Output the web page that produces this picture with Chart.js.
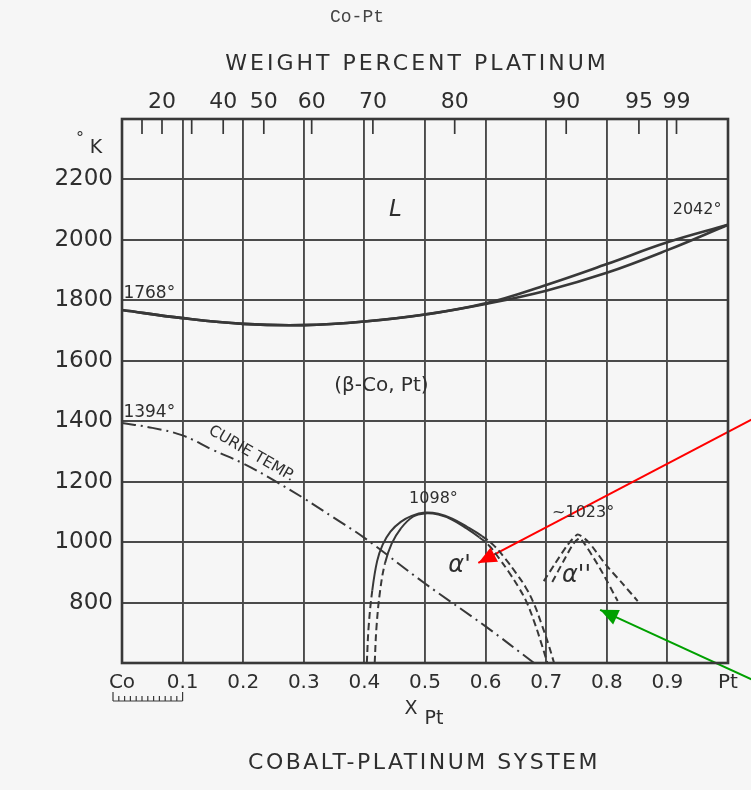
<!DOCTYPE html>
<html>
<head>
<meta charset="utf-8">
<script src="https://cdn.jsdelivr.net/npm/chart.js@4.4.1/dist/chart.umd.min.js"></script>
<style>
  html, body { margin: 0; padding: 0; background: #f6f6f6; }
  canvas { display: block; }
</style>
</head>
<body>
<canvas id="copt" width="751" height="790"></canvas>
<script>
// Co-Pt phase diagram
var xTickVals = [0, 0.1, 0.2, 0.3, 0.4, 0.5, 0.6, 0.7, 0.8, 0.9, 1];
var wtTickPos = [0.033, 0.066, 0.115, 0.167, 0.234, 0.313, 0.414, 0.549, 0.733, 0.853, 0.915];
var wtTickLabels = ['', '20', '', '40', '50', '60', '70', '80', '90', '95', '99'];

// liquidus / solidus
var liqX = [0, 0.1, 0.2, 0.3, 0.4, 0.5, 0.6, 0.7, 0.8, 0.9, 1.0];
var liqK = [1768, 1741, 1722, 1718, 1730, 1753, 1790, 1851, 1920, 1992, 2050];
var solK = [1768, 1741, 1722, 1718, 1730, 1753, 1788, 1832, 1891, 1966, 2050];

// Curie temperature
var curieX = [0, 0.05, 0.1, 0.15, 0.2, 0.25, 0.3, 0.35, 0.4, 0.5, 0.6, 0.68];
var curieK = [1394, 1378, 1353, 1305, 1260, 1205, 1145, 1080, 1014, 863, 721, 600];

// alpha' dome (two boundaries)
var a1OutX = [0.404, 0.407, 0.413, 0.421, 0.430, 0.443, 0.46, 0.478, 0.5, 0.522, 0.545, 0.57, 0.594, 0.613, 0.633, 0.65, 0.666, 0.68, 0.693, 0.704, 0.713];
var a1OutK = [600, 720, 840, 937, 991, 1035, 1067, 1087, 1098, 1094, 1078, 1050, 1020, 990, 944, 898, 851, 795, 725, 660, 600];
var a1InX = [0.417, 0.42, 0.426, 0.434, 0.445, 0.46, 0.48, 0.5, 0.522, 0.545, 0.568, 0.59, 0.606, 0.622, 0.638, 0.654, 0.668, 0.681, 0.692, 0.702];
var a1InK = [600, 720, 840, 930, 995, 1045, 1084, 1095, 1091, 1074, 1046, 1015, 988, 947, 902, 852, 800, 732, 665, 600];

// alpha'' dome
var a2OutX = [0.696, 0.715, 0.735, 0.752, 0.77, 0.798, 0.825, 0.851];
var a2OutK = [871, 930, 990, 1025, 1000, 926, 865, 805];
var a2InX = [0.71, 0.728, 0.745, 0.756, 0.789, 0.818];
var a2InK = [868, 935, 995, 1013, 912, 805];

// annotation arrows (start, tip)
var redArrowX = [1.04, 0.588];
var redArrowK = [1407, 931];
var greenArrowX = [1.04, 0.789];
var greenArrowK = [545, 776];

var a1SolidMinK = 935;
var a1SolidMaxX = 0.59;

function pts(xs, ys) {
  return xs.map(function (x, i) { return { x: x, y: ys[i] }; });
}

var ink = '#383838';
var font = "'DejaVu Sans', sans-serif";

function curve(label, data, width, dash, tension) {
  return {
    label: label,
    data: data,
    borderColor: ink,
    borderWidth: width,
    borderDash: dash || [],
    pointRadius: 0,
    fill: false,
    tension: tension === undefined ? 0.4 : tension
  };
}

var a1Seg = {
  borderDash: function (ctx) {
    var leftLow = ctx.p1.parsed.x < 0.5 && ctx.p1.parsed.y < a1SolidMinK;
    var rightLow = ctx.p0.parsed.x >= a1SolidMaxX;
    return (leftLow || rightLow) ? [7, 4] : undefined;
  }
};

var datasets = [
  curve('liquidus', pts(liqX, liqK), 2.6),
  curve('solidus', pts(liqX, solK), 2.6),
  curve('curie', pts(curieX, curieK), 2, [14, 5, 2, 5]),
  Object.assign(curve('a1 outer', pts(a1OutX, a1OutK), 2), { segment: a1Seg }),
  Object.assign(curve('a1 inner', pts(a1InX, a1InK), 2), { segment: a1Seg }),
  curve('a2 outer', pts(a2OutX, a2OutK), 2, [7, 4], 0.2),
  curve('a2 inner', pts(a2InX, a2InK), 2, [7, 4], 0.2),
  { label: 'red arrow', data: pts(redArrowX, redArrowK), borderColor: '#ff0000', borderWidth: 2,
    pointRadius: 0, clip: false, arrow: true },
  { label: 'green arrow', data: pts(greenArrowX, greenArrowK), borderColor: '#00a000', borderWidth: 2,
    pointRadius: 0, clip: false, arrow: true }
];

function text(ctx, str, x, y, size, opts) {
  opts = opts || {};
  ctx.save();
  ctx.font = (opts.style || '') + ' ' + size + 'px ' + (opts.family || font);
  ctx.fillStyle = opts.color || '#2e2e2e';
  ctx.textAlign = opts.align || 'center';
  ctx.textBaseline = 'middle';
  if (opts.spacing) ctx.letterSpacing = opts.spacing + 'px';
  ctx.translate(x, y);
  if (opts.rotate) ctx.rotate(opts.rotate * Math.PI / 180);
  ctx.fillText(str, 0, 0);
  ctx.restore();
}

var decor = {
  id: 'decor',
  beforeDraw: function (chart) {
    var ctx = chart.ctx;
    ctx.save();
    ctx.fillStyle = '#f6f6f6';
    ctx.fillRect(0, 0, chart.width, chart.height);
    ctx.restore();
  },
  afterDatasetsDraw: function (chart) {
    var ctx = chart.ctx;
    var a = chart.chartArea;
    var xs = chart.scales.x, ys = chart.scales.y, top = chart.scales.xTop;

    // frame
    ctx.save();
    ctx.strokeStyle = ink;
    ctx.lineWidth = 2.6;
    ctx.strokeRect(a.left, a.top, a.right - a.left, a.bottom - a.top);

    // weight-percent ticks pointing into the plot
    ctx.lineWidth = 1.7;
    top.ticks.forEach(function (t) {
      var px = top.getPixelForValue(t.value);
      ctx.beginPath();
      ctx.moveTo(px, a.top);
      ctx.lineTo(px, a.top + 15);
      ctx.stroke();
    });

    // small ruler under Co..0.1
    var rx0 = xs.getPixelForValue(0) - 9, rx1 = xs.getPixelForValue(0.1);
    var ry = 701;
    ctx.lineWidth = 1.2;
    ctx.beginPath();
    ctx.moveTo(rx0, ry); ctx.lineTo(rx1, ry);
    for (var i = 0; i <= 12; i++) {
      var tx = rx0 + (rx1 - rx0) * i / 12;
      ctx.moveTo(tx, ry);
      ctx.lineTo(tx, ry - ((i === 0 || i === 12) ? 9 : 5));
    }
    ctx.stroke();
    ctx.restore();

    // arrow heads
    chart.data.datasets.forEach(function (ds, di) {
      if (!ds.arrow) return;
      var el = chart.getDatasetMeta(di).data;
      var p0 = el[el.length - 2], p1 = el[el.length - 1];
      var ang = Math.atan2(p1.y - p0.y, p1.x - p0.x);
      ctx.save();
      ctx.translate(p1.x, p1.y);
      ctx.rotate(ang);
      ctx.fillStyle = ds.borderColor;
      ctx.beginPath();
      ctx.moveTo(0, 0);
      ctx.lineTo(-18, -8);
      ctx.lineTo(-18, 8);
      ctx.closePath();
      ctx.fill();
      ctx.restore();
    });

    // labels inside the plot
    function at(x, k) { return [xs.getPixelForValue(x), ys.getPixelForValue(k)]; }
    var p;
    p = at(0.451, 2099); text(ctx, 'L', p[0], p[1], 23, { style: 'italic' });
    p = at(0.949, 2099); text(ctx, '2042°', p[0], p[1], 16);
    p = at(0.045, 1822); text(ctx, '1768°', p[0], p[1], 17);
    p = at(0.045, 1428); text(ctx, '1394°', p[0], p[1], 17);
    p = at(0.428, 1518); text(ctx, '(β-Co, Pt)', p[0], p[1], 20);
    p = at(0.514, 1144); text(ctx, '1098°', p[0], p[1], 16);
    p = at(0.761, 1098); text(ctx, '~1023°', p[0], p[1], 16);
    p = at(0.557, 922); text(ctx, "α'", p[0], p[1], 24, { style: 'italic' });
    p = at(0.750, 890); text(ctx, "α''", p[0], p[1], 24, { style: 'italic' });
    p = at(0.214, 1292); text(ctx, 'CURIE TEMP.', p[0], p[1], 15.5, { rotate: 30 });

    // titles outside the plot
    text(ctx, 'Co-Pt', 357, 17, 18, { family: "'Liberation Mono', monospace", color: '#444' });
    text(ctx, 'WEIGHT PERCENT PLATINUM', 417, 64, 22, { spacing: 3 });
    text(ctx, '°', 80, 139, 16);
    text(ctx, 'K', 96, 148, 19);
    text(ctx, 'X', 411, 709, 19);
    text(ctx, 'Pt', 434, 719, 19);
    text(ctx, 'COBALT-PLATINUM SYSTEM', 424, 763, 22, { spacing: 2.5 });
  }
};

new Chart(document.getElementById('copt').getContext('2d'), {
  type: 'line',
  data: { datasets: datasets },
  options: {
    responsive: false,
    animation: false,
    layout: { padding: { left: 0, right: 23, top: 0, bottom: 0 } },
    plugins: { legend: { display: false }, tooltip: { enabled: false }, title: { display: false } },
    scales: {
      x: {
        type: 'linear', position: 'bottom', min: 0, max: 1,
        afterBuildTicks: function (s) { s.ticks = xTickVals.map(function (v) { return { value: v }; }); },
        afterFit: function (s) { s.height = 127; },
        grid: { color: '#4a4a4a', lineWidth: 1.9, drawTicks: false },
        border: { display: false },
        ticks: {
          autoSkip: false, maxRotation: 0, padding: 8, color: '#2e2e2e',
          font: { family: font, size: 20 },
          callback: function (v) { return v === 0 ? 'Co' : (v === 1 ? 'Pt' : v.toFixed(1)); }
        }
      },
      xTop: {
        type: 'linear', position: 'top', min: 0, max: 1,
        afterBuildTicks: function (s) { s.ticks = wtTickPos.map(function (v) { return { value: v }; }); },
        afterFit: function (s) { s.height = 119; },
        grid: { drawOnChartArea: false, drawTicks: false },
        border: { display: false },
        ticks: {
          autoSkip: false, maxRotation: 0, padding: 4, color: '#2e2e2e',
          font: { family: font, size: 22 },
          callback: function (v, i) { return wtTickLabels[i]; }
        }
      },
      y: {
        type: 'linear', min: 600, max: 2400,
        afterFit: function (s) { s.width = 122; },
        grid: { color: '#4a4a4a', lineWidth: 1.9, drawTicks: false },
        border: { display: false },
        ticks: {
          stepSize: 200, padding: 9, color: '#2e2e2e',
          font: { family: font, size: 23 },
          callback: function (v) { return (v === 600 || v === 2400) ? '' : String(v); }
        }
      }
    }
  },
  plugins: [decor]
});
</script>
</body>
</html>
